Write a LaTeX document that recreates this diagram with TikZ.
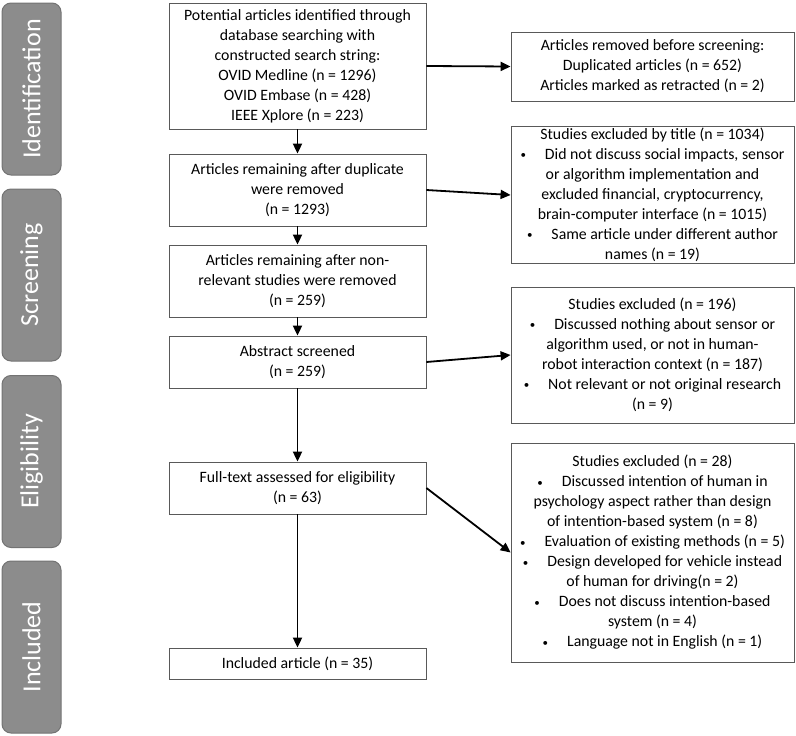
\documentclass[tikz,border=0pt]{standalone}
\usepackage{fontspec}
\setmainfont{Carlito}
\usepackage{tikz}
\usetikzlibrary{arrows.meta}

\newcommand{\dotitem}{\raisebox{0.1ex}{\fontsize{11}{11}\selectfont\textbullet}\hspace{1.2em}}

\begin{document}
\begin{tikzpicture}[x=1pt, y=-1pt,
		box/.style={draw=black!65, line width=0.8pt, fill=white, align=center, inner sep=2pt,
			font=\fontsize{15.8}{20}\selectfont},
		mainbox/.style={box, minimum width=257pt},
		sidebox/.style={box, minimum width=283pt},
		stage/.style={draw=black!55, line width=1pt, fill=black!45, rounded corners=9pt, rotate=90,
			minimum width=172pt, minimum height=59pt, text=white, font=\fontsize{26}{28}\selectfont},
		arr/.style={-{Triangle[length=10pt,width=9pt]}, line width=1.8pt}]
		\useasboundingbox (0,0) rectangle (796,736);
		% stages
		\node[stage] (sid) at (31.5,89) {Identification};
		\node[stage] (sscr) at (31.5,275) {Screening};
		\node[stage] (selig) at (31.5,461.5) {Eligibility};
		\node[stage] (sinc) at (31.5,647) {Included};
		% main column
		\node[mainbox, minimum height=126pt] (found) at (297.5,66) {Potential articles identified through\\database searching with\\constructed search string:\\OVID Medline (n = 1296)\\OVID Embase (n = 428)\\IEEE Xplore (n = 223)};
		\node[mainbox, minimum height=72pt] (dedup) at (297.5,190) {Articles remaining after duplicate\\were removed\\(n = 1293)};
		\node[mainbox, minimum height=72pt] (relev) at (297.5,281) {Articles remaining after non-\\relevant studies were removed\\(n = 259)};
		\node[mainbox, minimum height=52pt] (abstr) at (297.5,362) {Abstract screened\\(n = 259)};
		\node[mainbox, minimum height=52pt] (full) at (297.5,488) {Full-text assessed for eligibility\\(n = 63)};
		\node[mainbox, minimum height=31pt] (incl) at (297.5,663.5) {Included article (n = 35)};
		% excluded column
		\node[sidebox, minimum height=69pt] (exdup) at (652.5,66.5) {Articles removed before screening:\\Duplicated articles (n = 652)\\Articles marked as retracted (n = 2)};
		\node[sidebox, minimum height=126pt] (extitle) at (652.5,195) {Studies excluded by title (n = 1034)\\\dotitem Did not discuss social impacts, sensor\\or algorithm implementation and\\excluded financial, cryptocurrency,\\brain-computer interface (n = 1015)\\\dotitem Same article under different author\\names (n = 19)};
		\node[sidebox, minimum height=136pt] (exabs) at (652.5,355) {Studies excluded (n = 196)\\\dotitem Discussed nothing about sensor or\\algorithm used, or not in human-\\robot interaction context (n = 187)\\\dotitem Not relevant or not original research\\(n = 9)};
		\node[sidebox, minimum height=219pt] (exfull) at (652.5,552.5) {Studies excluded (n = 28)\\\dotitem Discussed intention of human in\\psychology aspect rather than design\\of intention-based system (n = 8)\\\dotitem Evaluation of existing methods (n = 5)\\\dotitem Design developed for vehicle instead\\of human for driving(n = 2)\\\dotitem Does not discuss intention-based\\system (n = 4)\\\dotitem Language not in English (n = 1)};
		% arrows
		\draw[arr] (found) -- (dedup);
		\draw[arr] (dedup) -- (relev);
		\draw[arr] (relev) -- (abstr);
		\draw[arr] (abstr) -- (full);
		\draw[arr] (full) -- (incl);
		\draw[arr] (found.east) -- (exdup.west);
		\draw[arr] (dedup.east) -- (extitle.west);
		\draw[arr] (abstr.east) -- (exabs.west);
		\draw[arr] (full.east) -- (exfull.west);
\end{tikzpicture}
\end{document}
